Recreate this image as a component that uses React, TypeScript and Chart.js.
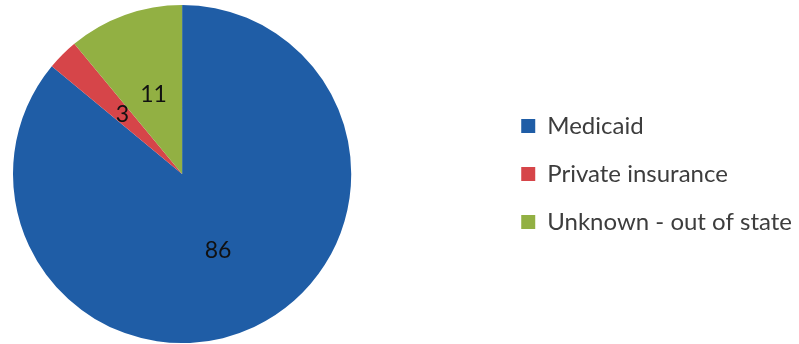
import React, { useEffect, useRef } from "react";
import { Chart, registerables, layouts } from "chart.js";

Chart.register(...registerables);

const categories = ["Medicaid", "Private insurance", "Unknown - out of state"];
const values = [86, 3, 11];
const colors = ["#1F5DA6", "#D64549", "#92B043"];

const FONT = "Lato, 'Open Sans', sans-serif";

const spacerPlugin = {
  id: "spacer",
  beforeInit(chart: any) {
    layouts.addBox(chart, {
      position: "right",
      weight: 0,
      fullSize: false,
      options: {},
      width: 0,
      height: 0,
      left: 0,
      top: 0,
      right: 0,
      bottom: 0,
      update(maxWidth: number, maxHeight: number) {
        this.width = 146;
        this.height = maxHeight;
      },
      isHorizontal() {
        return false;
      },
      draw() {},
    } as any);
  },
};

const labelPlugin = {
  id: "sliceLabels",
  afterDatasetsDraw(chart: any) {
    const ctx = chart.ctx;
    const meta = chart.getDatasetMeta(0);
    ctx.save();
    ctx.font = `23px ${FONT}`;
    ctx.fillStyle = "#111";
    ctx.textAlign = "center";
    ctx.textBaseline = "middle";
    meta.data.forEach((arc: any, i: number) => {
      const p = arc.tooltipPosition();
      ctx.fillText(String(values[i]), p.x, p.y);
    });
    ctx.restore();
  },
};

export default function App() {
  const ref = useRef<HTMLCanvasElement | null>(null);
  useEffect(() => {
    if (!ref.current) return;
    const chart = new Chart(ref.current, {
      type: "pie",
      data: {
        labels: categories,
        datasets: [
          {
            data: values,
            backgroundColor: colors,
            borderWidth: 0,
          },
        ],
      },
      options: {
        responsive: true,
        maintainAspectRatio: false,
        animation: false,
        layout: { padding: { left: 13, top: 4, bottom: 0, right: -3 } },
        plugins: {
          tooltip: { enabled: false },
          legend: {
            position: "right",
            maxWidth: 320,
            labels: {
              boxWidth: 14,
              boxHeight: 14,
              padding: 24,
              color: "#3d3d3d",
              font: { family: FONT, size: 24 },
            },
          },
        },
      },
      plugins: [spacerPlugin, labelPlugin],
    });
    return () => chart.destroy();
  }, []);
  return (
    <div style={{ position: "absolute", left: 0, top: 0, width: 799, height: 344, background: "#fff" }}>
      <canvas ref={ref} />
    </div>
  );
}
